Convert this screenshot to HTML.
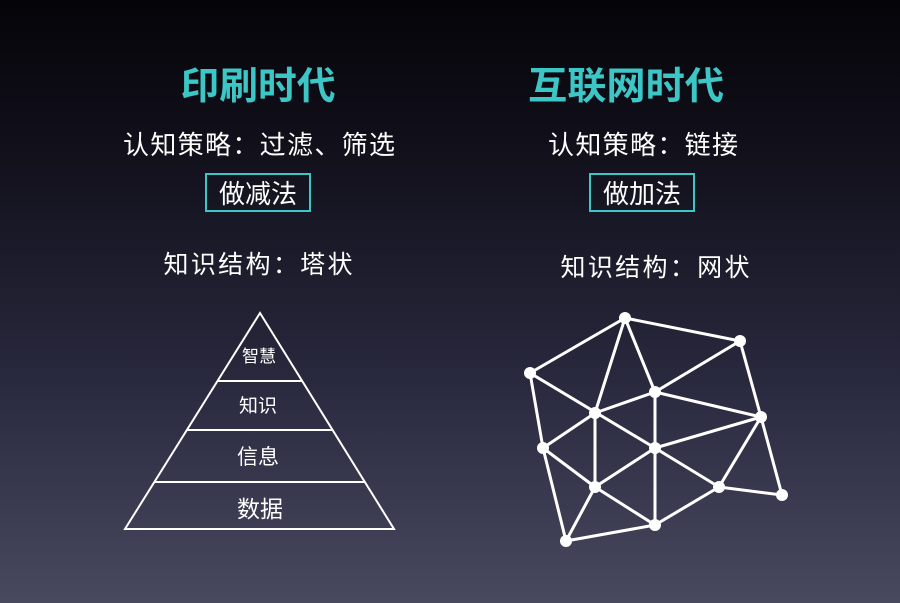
<!DOCTYPE html>
<html><head><meta charset="utf-8"><style>
body{margin:0;width:900px;height:603px;overflow:hidden;background:linear-gradient(#050409 0%,#14131f 30%,#2a2a40 65%,#48485e 100%);font-family:"Liberation Sans","Noto Sans CJK SC",sans-serif;}
svg{position:absolute;left:0;top:0}
</style></head><body>
<svg width="900" height="603" viewBox="0 0 900 603">
<g font-family="Liberation Sans, Noto Sans CJK SC, sans-serif" text-anchor="middle">
<text x="258" y="99" font-size="38" font-weight="bold" fill="#3dc6c6" textLength="155" lengthAdjust="spacingAndGlyphs">印刷时代</text>
<text x="626" y="99" font-size="38" font-weight="bold" fill="#3dc6c6" textLength="196" lengthAdjust="spacingAndGlyphs">互联网时代</text>
<text x="259" y="154" font-size="26" fill="#fff" textLength="272" lengthAdjust="spacing">认知策略：过滤、筛选</text>
<text x="643" y="154" font-size="26" fill="#fff" textLength="190" lengthAdjust="spacing">认知策略：链接</text>
<rect x="206" y="174" width="104" height="37" fill="none" stroke="#3dc6c6" stroke-width="2"/>
<rect x="590" y="174" width="104" height="37" fill="none" stroke="#3dc6c6" stroke-width="2"/>
<text x="258" y="203" font-size="26" fill="#fff">做减法</text>
<text x="642" y="203" font-size="26" fill="#fff">做加法</text>
<text x="258" y="273" font-size="25" fill="#fff" textLength="189" lengthAdjust="spacing">知识结构：塔状</text>
<text x="655" y="276" font-size="25" fill="#fff" textLength="189" lengthAdjust="spacing">知识结构：网状</text>
<g stroke="#fff" stroke-width="2" fill="none">
<polygon points="260,313 125,529 394,529"/>
<line x1="218" y1="381" x2="302" y2="381"/>
<line x1="187" y1="430" x2="333" y2="430"/>
<line x1="155" y1="482" x2="364" y2="482"/>
</g>
<text x="259" y="362" font-size="17" fill="#fff">智慧</text>
<text x="258" y="412" font-size="19" fill="#fff">知识</text>
<text x="258" y="464" font-size="21" fill="#fff">信息</text>
<text x="260" y="517" font-size="23" fill="#fff">数据</text>
</g>
<g stroke="#fff" stroke-width="3" stroke-linecap="round">
<line x1="625" y1="318" x2="530" y2="373"/>
<line x1="625" y1="318" x2="740" y2="341"/>
<line x1="625" y1="318" x2="595" y2="413"/>
<line x1="625" y1="318" x2="655" y2="392"/>
<line x1="740" y1="341" x2="655" y2="392"/>
<line x1="740" y1="341" x2="761" y2="417"/>
<line x1="530" y1="373" x2="543" y2="448"/>
<line x1="530" y1="373" x2="655" y2="448"/>
<line x1="595" y1="413" x2="655" y2="392"/>
<line x1="655" y1="392" x2="761" y2="417"/>
<line x1="655" y1="392" x2="655" y2="525"/>
<line x1="595" y1="413" x2="595" y2="487"/>
<line x1="595" y1="413" x2="543" y2="448"/>
<line x1="543" y1="448" x2="595" y2="487"/>
<line x1="543" y1="448" x2="566" y2="541"/>
<line x1="655" y1="448" x2="761" y2="417"/>
<line x1="655" y1="448" x2="595" y2="487"/>
<line x1="655" y1="448" x2="719" y2="487"/>
<line x1="761" y1="417" x2="719" y2="487"/>
<line x1="761" y1="417" x2="782" y2="495"/>
<line x1="719" y1="487" x2="782" y2="495"/>
<line x1="719" y1="487" x2="655" y2="525"/>
<line x1="595" y1="487" x2="655" y2="525"/>
<line x1="595" y1="487" x2="566" y2="541"/>
<line x1="566" y1="541" x2="655" y2="525"/>
</g>
<g fill="#fff">
<circle cx="625" cy="318" r="6"/><circle cx="740" cy="341" r="6"/><circle cx="530" cy="373" r="6"/>
<circle cx="655" cy="392" r="6"/><circle cx="595" cy="413" r="6"/><circle cx="761" cy="417" r="6"/>
<circle cx="543" cy="448" r="6"/><circle cx="655" cy="448" r="6"/><circle cx="595" cy="487" r="6"/>
<circle cx="719" cy="487" r="6"/><circle cx="782" cy="495" r="6"/><circle cx="655" cy="525" r="6"/>
<circle cx="566" cy="541" r="6"/>
</g>
</svg>
</body></html>
